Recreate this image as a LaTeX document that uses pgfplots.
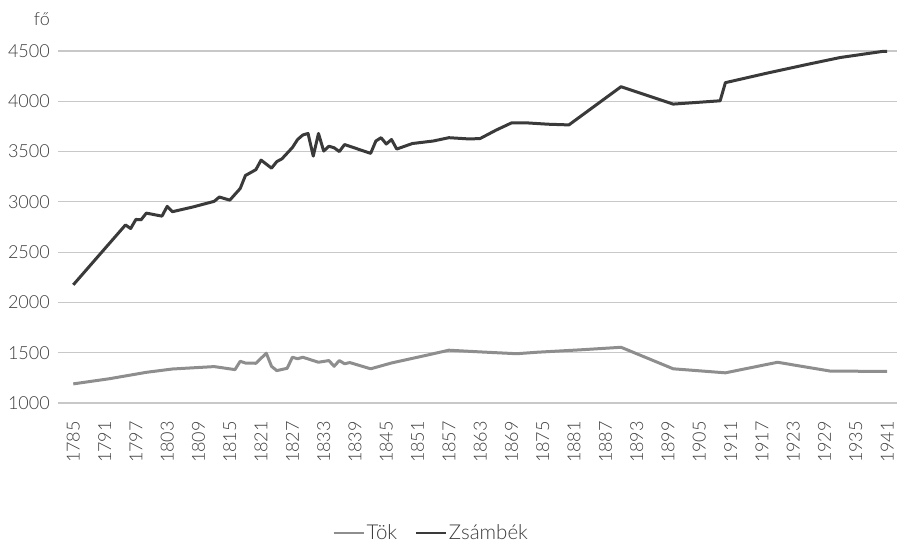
\documentclass[border=0pt]{standalone}
\usepackage{fontspec}
\setmainfont{Lato Light}
\usepackage{pgfplots}
\pgfplotsset{compat=1.18}

\definecolor{txt}{HTML}{3C3C3C}
\definecolor{gridc}{HTML}{C8C8C8}
\definecolor{tok}{HTML}{8E8E8E}
\definecolor{zsam}{HTML}{3A3A3A}

\pgfplotstableread{
year val
1785 1190
1792 1242
1799 1305
1804 1338
1812 1362
1816 1332
1817 1415
1818 1397
1820 1395
1822 1495
1823 1365
1824 1322
1826 1345
1827 1455
1828 1440
1829 1455
1832 1405
1834 1422
1835 1365
1836 1422
1837 1390
1838 1402
1842 1340
1846 1398
1853 1478
1857 1525
1863 1508
1870 1490
1874 1505
1882 1528
1890 1554
1900 1340
1910 1300
1920 1405
1930 1318
1937 1315
1941 1315
}\toktable

\pgfplotstableread{
year val
1785 2175
1795 2770
1796 2735
1797 2825
1798 2822
1799 2888
1802 2858
1803 2955
1804 2902
1808 2950
1812 3005
1813 3048
1815 3017
1817 3133
1818 3262
1820 3320
1821 3415
1823 3335
1824 3400
1825 3428
1827 3540
1828 3620
1829 3665
1830 3680
1831 3455
1832 3680
1833 3505
1834 3553
1835 3538
1836 3500
1837 3570
1842 3482
1843 3605
1844 3638
1845 3575
1846 3620
1847 3525
1850 3580
1854 3605
1857 3638
1861 3625
1863 3630
1866 3712
1869 3785
1872 3785
1876 3772
1880 3765
1890 4145
1900 3972
1909 4005
1910 4185
1918 4280
1926 4370
1932 4435
1940 4495
1941 4495
}\zsamtable

\begin{document}
\begin{tikzpicture}[x=1bp,y=1bp]
\useasboundingbox (-58,-142) rectangle (840,403);
\begin{axis}[
    at={(0,0)}, anchor=south west,
    scale only axis,
    width=839bp, height=352bp,
    xmin=1782.07, xmax=1942.9,
    ymin=1000, ymax=4500,
    xtick={1785,1791,...,1941},
    ytick={1000,1500,...,4500},
    axis line style={draw=none},
    tick style={draw=none},
    xmajorgrids=false,
    ymajorgrids=true,
    grid style={draw=gridc, line width=1.2bp},
    /pgf/number format/1000 sep={},
    /pgf/number format/assume math mode=true,
    font=\fontsize{18bp}{20bp}\selectfont,
    tick label style={text=txt},
    xticklabel style={rotate=90, anchor=east, inner sep=0pt},
    xticklabel shift=18bp,
    yticklabel style={anchor=east, inner sep=0pt},
    yticklabel shift=8bp,
    clip=false,
    legend columns=2,
    legend style={at={(axis description cs:0.445,-0.369)}, anchor=center,
        draw=none, fill=none, text=txt, font=\fontsize{20.5bp}{22bp}\selectfont,
        /tikz/every even column/.append style={column sep=16bp}},
    legend image code/.code={\draw[#1, line width=1.8bp] (0bp,0bp) -- (30bp,0bp);},
]
\addplot[tok, line width=3bp, line join=round] table[x=year,y=val] {\toktable};
\addlegendentry{Tök}
\addplot[zsam, line width=3bp, line join=round] table[x=year,y=val] {\zsamtable};
\addlegendentry{Zsámbék}
\node[anchor=base east, text=txt, inner sep=0pt, font=\fontsize{18bp}{20bp}\selectfont]
    at ([xshift=-8bp,yshift=25bp]rel axis cs:0,1) {fő};
\end{axis}
\end{tikzpicture}
\end{document}
